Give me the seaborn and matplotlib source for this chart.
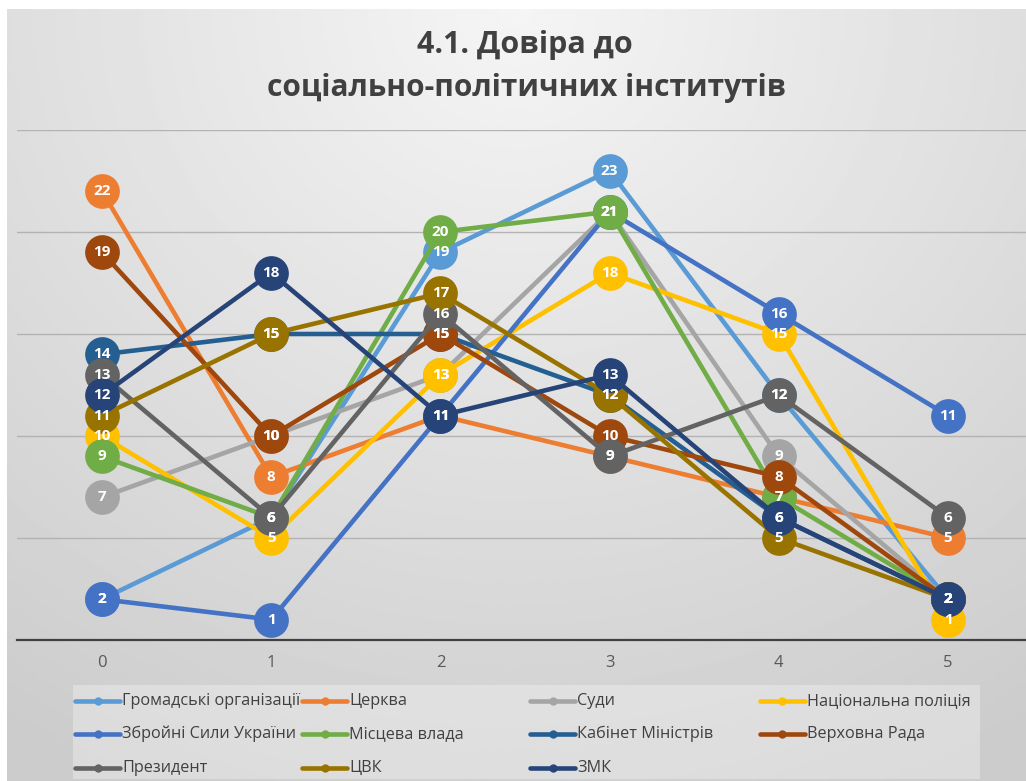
import numpy as np
import pandas as pd
import seaborn as sns
import matplotlib.pyplot as plt
from matplotlib.lines import Line2D
from matplotlib.patches import Rectangle

# data
x_vals = [0, 1, 2, 3, 4, 5]
names = ["Громадські організації", "Церква", "Суди", "Національна поліція",
         "Збройні Сили України", "Місцева влада", "Кабінет Міністрів", "Верховна Рада",
         "Президент", "ЦВК", "ЗМК"]
gromadski = [2, 6, 19, 23, 12, 2]
tserkva = [22, 8, 11, 9, 7, 5]
sudy = [7, 10, 13, 21, 9, 2]
politsiya = [10, 5, 13, 18, 15, 1]
zsu = [2, 1, 11, 21, 16, 11]
mistseva = [9, 6, 20, 21, 7, 2]
kabmin = [14, 15, 15, 12, 6, 2]
rada = [19, 10, 15, 10, 8, 2]
prezydent = [13, 6, 16, 9, 12, 6]
tsvk = [11, 15, 17, 12, 5, 2]
zmk = [12, 18, 11, 13, 6, 2]
values = [gromadski, tserkva, sudy, politsiya, zsu, mistseva, kabmin, rada,
          prezydent, tsvk, zmk]
colors = ["#5B9BD5", "#ED7D31", "#A5A5A5", "#FFC000", "#4472C4", "#70AD47",
          "#255E91", "#9E480E", "#636363", "#997300", "#264478"]

df = pd.DataFrame({
    "x": x_vals * len(names),
    "y": [v for vals in values for v in vals],
    "series": [n for n in names for _ in x_vals],
})

sns.set_style("white")
plt.rcParams["font.family"] = ["Open Sans", "DejaVu Sans"]

fig = plt.figure(figsize=(10.26, 7.81), dpi=100)
fig.patch.set_facecolor("white")

# gradient background
bg = fig.add_axes([7 / 1026, 0, 1 - 7 / 1026, 1 - 9 / 781], zorder=-10)
gx, gy = np.meshgrid(np.linspace(0, 1, 300), np.linspace(0, 1, 300))
v = np.sqrt(((gx - 0.5) / 0.9) ** 2 + (gy / 1.1) ** 2)
shade = 0.96 - 0.16 * np.clip(v, 0, 1)
bg.imshow(shade, cmap="gray", vmin=0, vmax=1, aspect="auto", extent=[0, 1, 1, 0])
bg.axis("off")

ax = fig.add_axes([17.4 / 1026, 1 - 640 / 781, 1015.2 / 1026, 510 / 781])
ax.patch.set_alpha(0)

sns.lineplot(data=df, x="x", y="y", hue="series", hue_order=names,
             palette=dict(zip(names, colors)), marker="o", markersize=25,
             markeredgewidth=0, linewidth=3.3, sort=False, legend=False, ax=ax)
for i, line in enumerate(ax.lines):
    line.set_zorder(3 + i * 0.1)

for vals in values:
    for x, y in zip(x_vals, vals):
        ax.text(x, y, str(y), ha="center", va="center", color="white",
                fontsize=11, fontweight="bold", zorder=20)

ax.set_xlim(-0.5, 5.5)
ax.set_ylim(0, 25)
ax.set_yticks([5, 10, 15, 20, 25])
ax.set_yticklabels([])
ax.tick_params(axis="y", length=0)
ax.grid(axis="y", color="#b3b3b3", linewidth=1)
ax.set_axisbelow(True)
ax.set_xticks(x_vals)
ax.tick_params(axis="x", length=0, labelsize=12, labelcolor="#595959", pad=11)
for s in ["top", "right", "left"]:
    ax.spines[s].set_visible(False)
ax.spines["bottom"].set_color("#404040")
ax.spines["bottom"].set_linewidth(1.6)
ax.set_xlabel("")
ax.set_ylabel("")

fig.text(525 / 1026, 1 - 45 / 781, "4.1. Довіра до", ha="center", va="center",
         fontsize=22, fontweight="bold", color="#404040")
fig.text(526 / 1026, 1 - 88 / 781, "соціально-політичних інститутів", ha="center",
         va="center", fontsize=21.5, fontweight="bold", color="#404040")

# legend drawn as a grid of equal columns
fig.patches.append(Rectangle((73 / 1026, 1 - 779 / 781), 907 / 1026, 94 / 781,
                             transform=fig.transFigure, facecolor="white",
                             alpha=0.3, edgecolor="none", zorder=1))
col_x = [75, 302, 530, 760]
row_y = [701, 734, 768]
for i, (name, c) in enumerate(zip(names, colors)):
    r, k = divmod(i, 4)
    x0 = col_x[k] / 1026
    y0 = 1 - row_y[r] / 781
    fig.lines.append(Line2D([x0, x0 + 45 / 1026], [y0, y0], transform=fig.transFigure,
                            color=c, linewidth=3.3, zorder=2))
    fig.lines.append(Line2D([x0 + 22.5 / 1026], [y0], transform=fig.transFigure,
                            color=c, marker="o", markersize=6, markeredgewidth=0, zorder=3))
    fig.text(x0 + 47 / 1026, y0, name, ha="left", va="center", fontsize=11.7,
             color="#404040", zorder=3)

fig.savefig("out.png", dpi=100)
